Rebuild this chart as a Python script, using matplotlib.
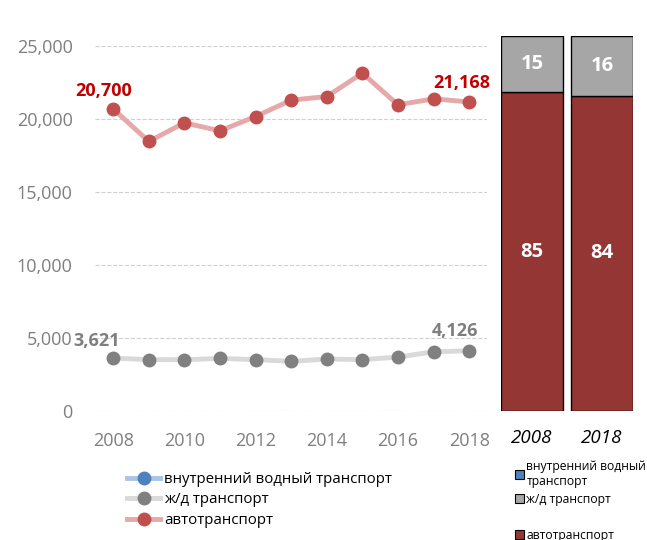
import matplotlib
matplotlib.use("Agg")
import matplotlib.pyplot as plt
from matplotlib.patches import Patch
import numpy as np

plt.rcParams['font.family'] = ['Open Sans', 'DejaVu Sans']

years = list(range(2008, 2019))
auto = [20700, 18460, 19740, 19190, 20170, 21290, 21540, 23140, 20970, 21380, 21168]
rail = [3621, 3520, 3510, 3600, 3520, 3400, 3560, 3520, 3690, 4060, 4126]
water = [np.nan] * 11

bar_years = ['2008', '2018']
bar_auto = [85, 84]
bar_rail = [15, 16]

W, H = 647, 540
fig = plt.figure(figsize=(W / 100, H / 100), dpi=100)

# left line chart
ax = fig.add_axes([95 / W, 1 - 411 / H, (487 - 95) / W, (411 - 46) / H])
lw = 3.5
ms = 9
ax.plot(years, water, color='#A9C4E5', lw=lw, marker='o', ms=ms,
        mfc='#4F81BD', mec='#4F81BD', label='внутренний водный транспорт')
ax.plot(years, rail, color='#D9D9D9', lw=lw, marker='o', ms=ms,
        mfc='#808080', mec='#808080', label='ж/д транспорт')
ax.plot(years, auto, color='#E6A8A8', lw=lw, marker='o', ms=ms,
        mfc='#C0504D', mec='#C0504D', label='автотранспорт')

ax.set_xlim(2007.49, 2018.5)
ax.set_ylim(0, 25000)
ax.set_yticks(range(0, 25001, 5000))
ax.set_yticklabels([f'{v:,}' for v in range(0, 25001, 5000)])
ax.set_xticks(range(2008, 2019, 2))
ax.tick_params(axis='both', colors='#7F7F7F', labelsize=13, length=0)
ax.tick_params(axis='x', pad=15)
ax.tick_params(axis='y', pad=16)
for lab in ax.get_xticklabels() + ax.get_yticklabels():
    lab.set_color('#7F7F7F')
ax.grid(axis='y', color='#D0D0D0', ls='--', lw=0.8)
ax.set_axisbelow(True)
for s in ax.spines.values():
    s.set_visible(False)

afs = 13
ax.annotate(f'{auto[0]:,}', (years[0], auto[0]), xytext=(-6.5, 13), textcoords='offset points',
            ha='center', va='center', color='#C00000', fontsize=afs, fontweight='bold')
ax.annotate(f'{auto[-1]:,}', (years[-1], auto[-1]), xytext=(-5, 13.5), textcoords='offset points',
            ha='center', va='center', color='#C00000', fontsize=afs, fontweight='bold')
ax.annotate(f'{rail[0]:,}', (years[0], rail[0]), xytext=(-11.5, 12.5), textcoords='offset points',
            ha='center', va='center', color='#7F7F7F', fontsize=afs, fontweight='bold')
ax.annotate(f'{rail[-1]:,}', (years[-1], rail[-1]), xytext=(-10, 14.5), textcoords='offset points',
            ha='center', va='center', color='#7F7F7F', fontsize=afs, fontweight='bold')

leg = ax.legend(loc='upper left', bbox_to_anchor=(127 / W, 1 - 472 / H),
                bbox_transform=fig.transFigure, frameon=False, fontsize=10.8,
                handlelength=2.2, labelspacing=0.36, handletextpad=0.3, borderpad=0,
                borderaxespad=0)

# right stacked bars
bx = fig.add_axes([501 / W, 1 - 411 / H, 132 / W, (411 - 36) / H])
x = np.arange(len(bar_years))
bw = 62 / 70
bx.bar(x, bar_auto, width=bw, color='#943634', edgecolor='black', lw=1)
bx.bar(x, bar_rail, bottom=bar_auto, width=bw, color='#A6A6A6', edgecolor='black', lw=1)
for i in range(len(x)):
    bx.text(x[i], bar_auto[i] / 2, str(bar_auto[i]), ha='center', va='center',
            color='white', fontsize=14.5, fontweight='bold')
    bx.text(x[i], bar_auto[i] + bar_rail[i] / 2, str(bar_rail[i]), ha='center', va='center',
            color='white', fontsize=14.5, fontweight='bold')
bx.set_xlim(-31 / 70, 1 + 31 / 70)
bx.set_ylim(0, 100)
bx.set_yticks([])
bx.set_xticks(x)
bx.set_xticklabels(bar_years, fontstyle='italic', fontsize=13.5)
bx.tick_params(axis='x', length=0, pad=13)
for s in bx.spines.values():
    s.set_visible(False)

handles = [Patch(facecolor='#4F81BD', edgecolor='black', lw=0.8),
           Patch(facecolor='#A6A6A6', edgecolor='black', lw=0.8),
           Patch(facecolor='none', edgecolor='none'),
           Patch(facecolor='#943634', edgecolor='black', lw=0.8)]
labels = ['внутренний водный\nтранспорт', 'ж/д транспорт', '', 'автотранспорт']
fig.legend(handles, labels, loc='upper left', bbox_to_anchor=(515 / W, 1 - 460 / H),
           frameon=False, fontsize=8.7, handlelength=0.75, handleheight=0.75,
           handletextpad=0.2, labelspacing=0.4, borderpad=0, borderaxespad=0)

fig.savefig('out.png', dpi=100)
